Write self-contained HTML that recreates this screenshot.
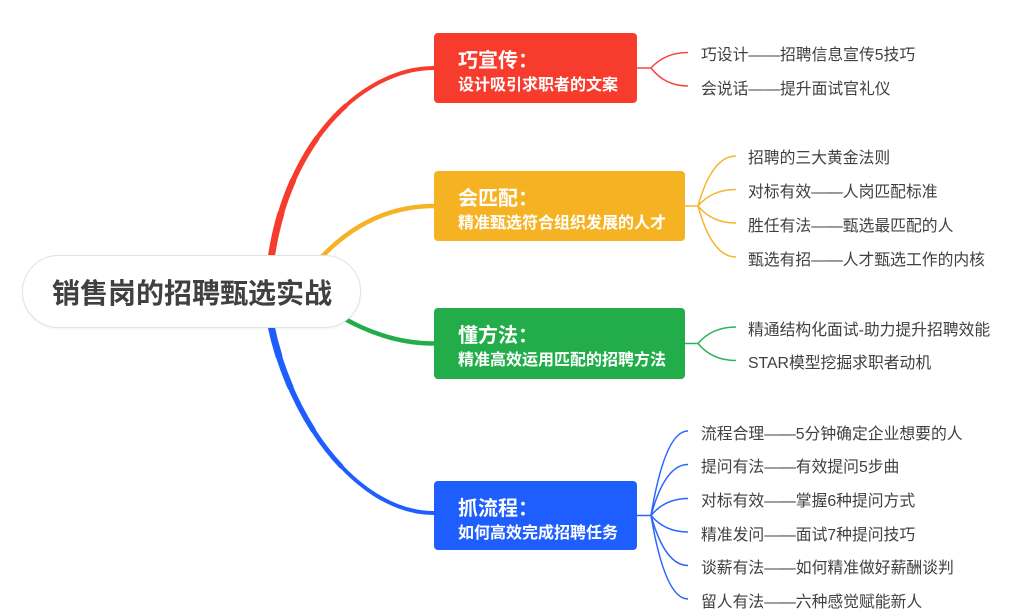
<!DOCTYPE html>
<html>
<head>
<meta charset="utf-8">
<style>
  html,body{margin:0;padding:0;background:#fff;}
  #wrap{position:relative;width:1025px;height:616px;overflow:hidden;background:#fff;
    font-family:"Liberation Sans","Noto Sans CJK SC",sans-serif;}
  svg{position:absolute;left:0;top:0;}
  .pill{position:absolute;left:22px;top:255px;width:337px;height:71px;border:1.5px solid #e2e2e2;
    border-radius:37px;background:#fff;box-shadow:0 1px 2px rgba(0,0,0,0.06);}
  .root{position:absolute;left:22px;width:340px;top:279.5px;text-align:center;font-size:28px;line-height:28px;
    font-weight:bold;color:#404040;white-space:nowrap;}
  .box{position:absolute;left:434px;border-radius:4px;}
  .t{position:absolute;left:458px;color:#fff;font-weight:bold;white-space:nowrap;}
  .t1{font-size:20px;line-height:20px;}
  .t2{font-size:16px;line-height:16px;}
  .c{position:absolute;font-size:15.8px;line-height:16px;color:#404040;white-space:nowrap;}
</style>
</head>
<body>
<div id="wrap">
<svg width="1025" height="616" viewBox="0 0 1025 616">
  <g fill="none" stroke-linecap="round">
    <!-- red main (tapered) -->
    <path d="M268 291 C275 150 360 68 434 68" stroke="#f73b2c" stroke-width="4"/>
    <path d="M268 291 C272.2 206.4 304.48 143.04 345.61 105.89" stroke="#f73b2c" stroke-width="4.8"/>
    <path d="M268 291 C271.15 227.55 290.1 176.05 316.73 138.59" stroke="#f73b2c" stroke-width="5.5"/>
    <path d="M268 291 C270.1 248.7 279.22 211.71 292.96 180.65" stroke="#f73b2c" stroke-width="6.2"/>
    <path d="M268 291 C269.4 262.8 273.92 236.96 280.85 213.66" stroke="#f73b2c" stroke-width="7"/>
    <!-- yellow main -->
    <path d="M295 291 C325 245 370 206 434 206" stroke="#f5b324" stroke-width="4.5"/>
    <!-- green main -->
    <path d="M300 291 C340 318 380 343.5 434 343.5" stroke="#22ad4a" stroke-width="4.5"/>
    <!-- blue main (tapered) -->
    <path d="M266 291 C275 400 350 513 434 513" stroke="#1f5efe" stroke-width="4"/>
    <path d="M266 291 C271.4 356.4 300.56 423.24 341.16 466.25" stroke="#1f5efe" stroke-width="4.8"/>
    <path d="M266 291 C270.05 340.05 287.47 389.91 313.05 429.92" stroke="#1f5efe" stroke-width="5.5"/>
    <path d="M266 291 C268.7 323.7 277.34 356.76 290.39 387.02" stroke="#1f5efe" stroke-width="6.2"/>
    <path d="M266 291 C267.8 312.8 272.24 334.76 278.86 355.94" stroke="#1f5efe" stroke-width="7"/>
  </g>
  <g fill="none" stroke-width="1.5">
    <!-- red sub -->
    <g stroke="#f5493b">
      <path d="M636 68 H651"/>
      <path d="M651 68 Q665 52.5 688 52.5"/>
      <path d="M651 68 Q665 86 688 86"/>
    </g>
    <!-- yellow sub -->
    <g stroke="#f5b530">
      <path d="M684 206 H698"/>
      <path d="M698 206 Q712 156 736 156"/>
      <path d="M698 206 Q712 189.5 736 189.5"/>
      <path d="M698 206 Q712 223 736 223"/>
      <path d="M698 206 Q712 257 736 257"/>
    </g>
    <!-- green sub -->
    <g stroke="#2db455">
      <path d="M684 343.5 H698"/>
      <path d="M698 343.5 Q712 327 736 327"/>
      <path d="M698 343.5 Q712 360.5 736 360.5"/>
    </g>
    <!-- blue sub -->
    <g stroke="#2a66fe">
      <path d="M636 515.5 H651"/>
      <path d="M651 515.5 Q665 431 688 431"/>
      <path d="M651 515.5 Q665 464.5 688 464.5"/>
      <path d="M651 515.5 Q665 498.5 688 498.5"/>
      <path d="M651 515.5 Q665 532 688 532"/>
      <path d="M651 515.5 Q665 565.5 688 565.5"/>
      <path d="M651 515.5 Q665 599 688 599"/>
    </g>
  </g>
</svg>

<div class="pill"></div>
<div class="root">销售岗的招聘甄选实战</div>

<!-- red box -->
<div class="box" style="top:33px;width:203px;height:70px;background:#f73b2c;"></div>
<div class="t t1" style="top:50.5px;">巧宣传：</div>
<div class="t t2" style="top:77.5px;">设计吸引求职者的文案</div>

<!-- yellow box -->
<div class="box" style="top:171px;width:251px;height:70px;background:#f5b324;"></div>
<div class="t t1" style="top:188.5px;">会匹配：</div>
<div class="t t2" style="top:215.5px;">精准甄选符合组织发展的人才</div>

<!-- green box -->
<div class="box" style="top:308px;width:251px;height:71px;background:#22ad4a;"></div>
<div class="t t1" style="top:325.5px;">懂方法：</div>
<div class="t t2" style="top:352.5px;">精准高效运用匹配的招聘方法</div>

<!-- blue box -->
<div class="box" style="top:481px;width:203px;height:69px;background:#1f5efe;"></div>
<div class="t t1" style="top:498.5px;">抓流程：</div>
<div class="t t2" style="top:525.5px;">如何高效完成招聘任务</div>

<!-- red children -->
<div class="c" style="left:701px;top:47.5px;">巧设计——招聘信息宣传5技巧</div>
<div class="c" style="left:701px;top:81.5px;">会说话——提升面试官礼仪</div>

<!-- yellow children -->
<div class="c" style="left:748px;top:150.5px;">招聘的三大黄金法则</div>
<div class="c" style="left:748px;top:184.5px;">对标有效——人岗匹配标准</div>
<div class="c" style="left:748px;top:218.5px;">胜任有法——甄选最匹配的人</div>
<div class="c" style="left:748px;top:252.5px;">甄选有招——人才甄选工作的内核</div>

<!-- green children -->
<div class="c" style="left:748px;top:322.5px;">精通结构化面试-助力提升招聘效能</div>
<div class="c" style="left:748px;top:355.5px;">STAR模型挖掘求职者动机</div>

<!-- blue children -->
<div class="c" style="left:701px;top:426.5px;">流程合理——5分钟确定企业想要的人</div>
<div class="c" style="left:701px;top:459.5px;">提问有法——有效提问5步曲</div>
<div class="c" style="left:701px;top:493.5px;">对标有效——掌握6种提问方式</div>
<div class="c" style="left:701px;top:527.5px;">精准发问——面试7种提问技巧</div>
<div class="c" style="left:701px;top:560.5px;">谈薪有法——如何精准做好薪酬谈判</div>
<div class="c" style="left:701px;top:594.5px;">留人有法——六种感觉赋能新人</div>
</div>
</body>
</html>
